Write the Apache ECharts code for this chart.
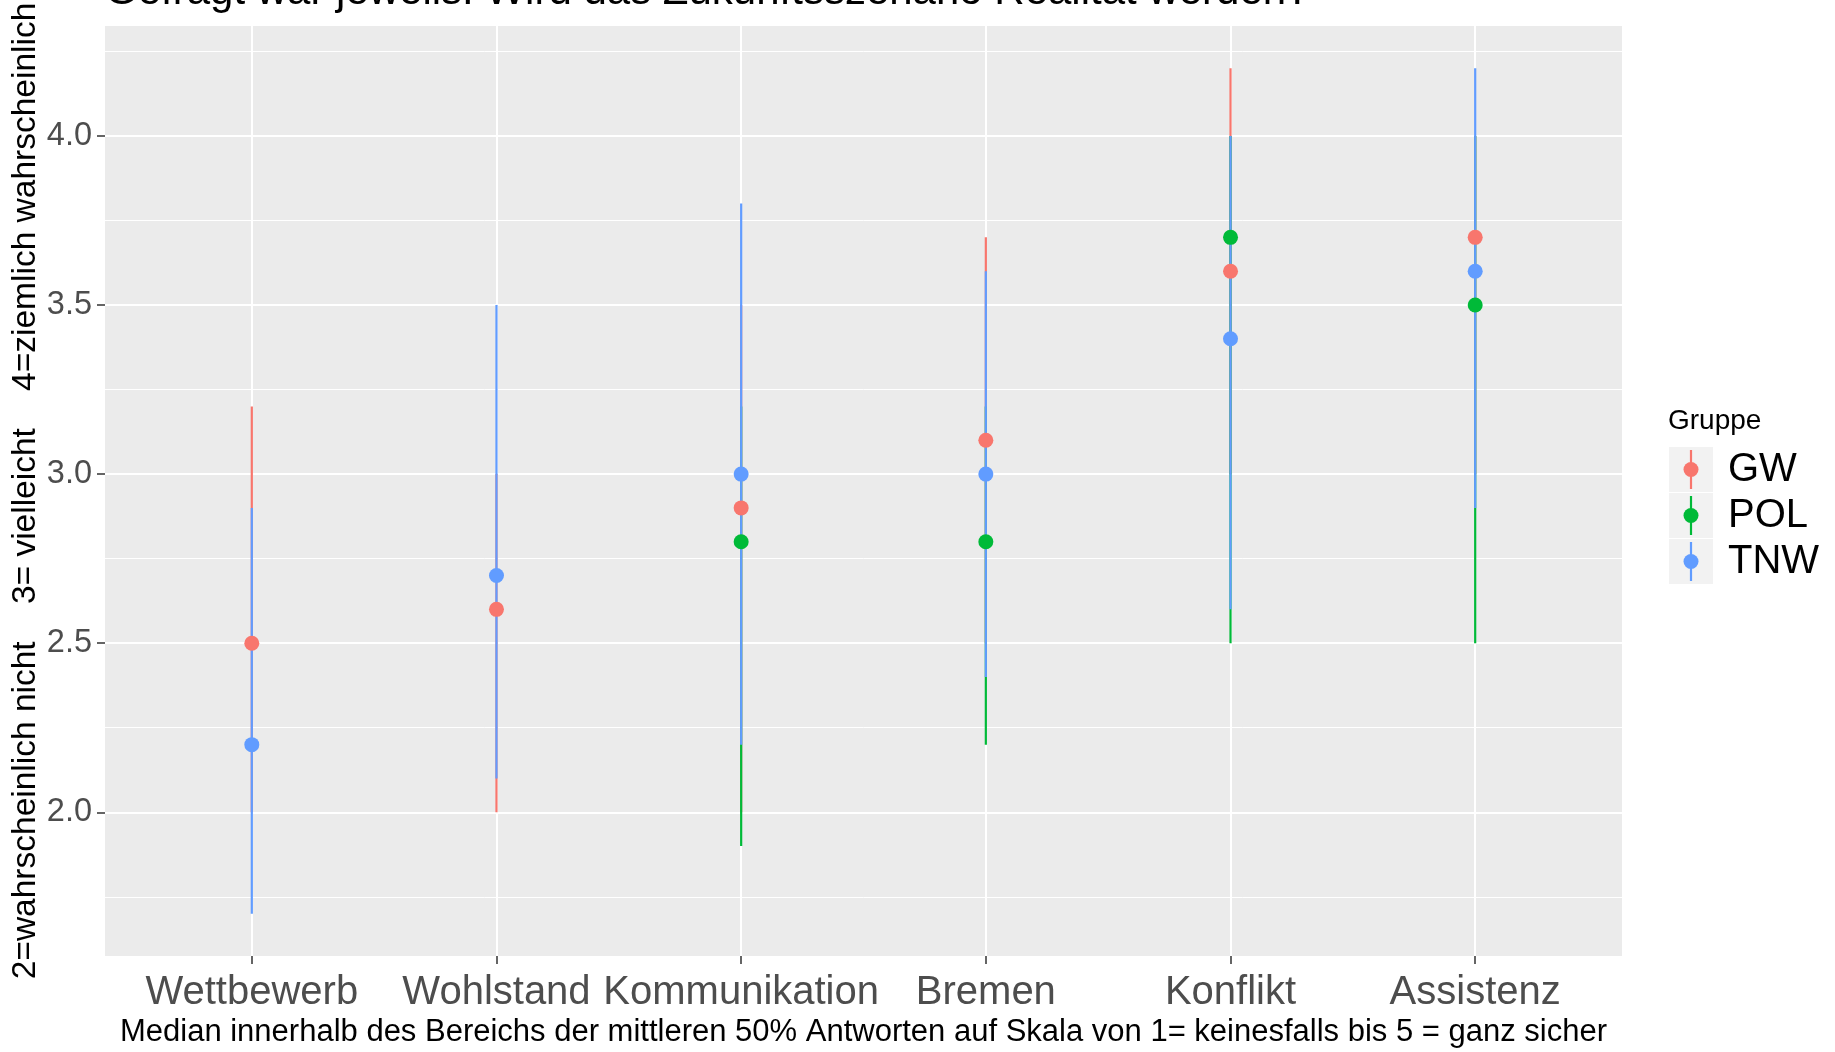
<!DOCTYPE html>
<html>
<head>
<meta charset="utf-8">
<script src="https://cdn.jsdelivr.net/npm/echarts@6/dist/echarts.min.js"></script>
<style>
  html, body { margin: 0; padding: 0; background: #fff; }
  #chart { width: 1835px; height: 1052px; }
</style>
</head>
<body>
<div id="chart"></div>
<script>
// categories and values
var categories = ['Wettbewerb', 'Wohlstand', 'Kommunikation', 'Bremen', 'Konflikt', 'Assistenz'];
var groups = ['GW', 'POL', 'TNW'];

var gwMedian = [2.5, 2.6, 2.9, 3.1, 3.6, 3.7];
var gwLower = [2.0, 2.0, 2.0, 2.5, 3.0, 3.0];
var gwUpper = [3.2, 3.0, 3.5, 3.7, 4.2, 4.0];

var polMedian = [null, null, 2.8, 2.8, 3.7, 3.5];
var polLower = [null, null, 1.9, 2.2, 2.5, 2.5];
var polUpper = [null, null, 3.2, 3.2, 4.0, 4.0];

var tnwMedian = [2.2, 2.7, 3.0, 3.0, 3.4, 3.6];
var tnwLower = [1.7, 2.1, 2.2, 2.4, 2.6, 2.9];
var tnwUpper = [2.9, 3.5, 3.8, 3.6, 4.0, 4.2];

var yTicks = [2.0, 2.5, 3.0, 3.5, 4.0];
var yMinorTicks = [1.75, 2.25, 2.75, 3.25, 3.75, 4.25];

var colors = ['#F8766D', '#00BA38', '#619CFF'];
var font = 'Liberation Sans';

var xTicks = categories.map(function (c, i) { return i + 1; });

function rangeData(lower, upper) {
  var out = [];
  for (var i = 0; i < categories.length; i++) {
    if (lower[i] == null) continue;
    out.push([i + 1, lower[i], upper[i]]);
  }
  return out;
}

function pointData(median) {
  var out = [];
  for (var i = 0; i < categories.length; i++) {
    if (median[i] == null) continue;
    out.push([i + 1, median[i]]);
  }
  return out;
}

function rangeSeries(name, lower, upper, color) {
  return {
    name: name,
    type: 'custom',
    z: 2,
    data: rangeData(lower, upper),
    encode: { x: 0, y: [1, 2] },
    renderItem: function (params, api) {
      var x = api.value(0);
      var lo = api.coord([x, api.value(1)]);
      var hi = api.coord([x, api.value(2)]);
      return {
        type: 'line',
        shape: { x1: lo[0], y1: lo[1], x2: hi[0], y2: hi[1] },
        style: { stroke: color, lineWidth: 2.2 }
      };
    }
  };
}

function pointSeries(name, median, color) {
  return {
    name: name,
    type: 'scatter',
    z: 3,
    symbol: 'circle',
    symbolSize: 15,
    itemStyle: { color: color, opacity: 1 },
    data: pointData(median)
  };
}

// legend drawn by hand: grey key boxes with a line + dot
var legendGraphics = [{
  type: 'text', x: 1668, y: 421,
  style: { text: 'Gruppe', font: '28px "' + font + '"', fill: '#000', verticalAlign: 'middle' }
}];
groups.forEach(function (g, i) {
  var top = 447 + i * 46;
  legendGraphics.push(
    { type: 'rect', shape: { x: 1669, y: top, width: 44, height: 45 }, style: { fill: '#F2F2F2' } },
    { type: 'line', shape: { x1: 1691, y1: top + 3, x2: 1691, y2: top + 42 }, style: { stroke: colors[i], lineWidth: 2.2 } },
    { type: 'circle', shape: { cx: 1691, cy: top + 22.5, r: 7.5 }, style: { fill: colors[i] } },
    { type: 'text', x: 1728, y: top + 23, style: { text: g, font: '40px "' + font + '"', fill: '#000', verticalAlign: 'middle' } }
  );
});

var chart = echarts.init(document.getElementById('chart'));
var option = {
  animation: false,
  backgroundColor: '#fff',
  textStyle: { fontFamily: font },
  grid: {
    left: 105, right: 213, top: 26, bottom: 96,
    outerBoundsMode: 'none',
    containLabel: false,
    show: true, backgroundColor: '#EBEBEB', borderWidth: 0
  },
  xAxis: {
    type: 'value',
    min: 0.4,
    max: 6.6,
    axisLine: { show: false },
    axisTick: { show: true, length: 8, customValues: xTicks, lineStyle: { color: '#333333', width: 1.5 } },
    axisLabel: {
      customValues: xTicks,
      formatter: function (v) { return categories[Math.round(v) - 1]; },
      fontSize: 40, color: '#4D4D4D', margin: 17
    },
    splitLine: { show: true, lineStyle: { color: '#fff', width: 2 } },
    name: 'Median innerhalb des Bereichs der mittleren 50% Antworten auf Skala von 1= keinesfalls bis 5 = ganz sicher',
    nameLocation: 'middle',
    nameGap: 61,
    nameMoveOverlap: false,
    nameTextStyle: { fontSize: 31, color: '#000' }
  },
  yAxis: [{
    type: 'value',
    min: 1.575,
    max: 4.325,
    axisLine: { show: false },
    axisTick: { show: true, length: 8, customValues: yTicks, lineStyle: { color: '#333333', width: 1.5 } },
    axisLabel: {
      customValues: yTicks,
      formatter: function (v) { return v.toFixed(1); },
      fontSize: 32.5, color: '#4D4D4D', margin: 13
    },
    splitLine: { show: true, lineStyle: { color: '#fff', width: 2 } },
    name: '2=wahrscheinlich nicht    3= vielleicht    4=ziemlich wahrscheinlich',
    nameLocation: 'middle',
    nameGap: 62,
    nameMoveOverlap: false,
    nameTextStyle: { fontSize: 33.5, color: '#000' }
  }, {
    // minor grid lines
    type: 'value',
    min: 1.575,
    max: 4.325,
    axisLine: { show: false },
    axisTick: { show: false, customValues: yMinorTicks },
    axisLabel: { show: false, customValues: yMinorTicks },
    splitLine: { show: true, lineStyle: { color: '#fff', width: 1 } }
  }],
  graphic: [{
    type: 'text', x: 105, y: -8,
    style: {
      text: 'Gefragt war jeweils: Wird das Zukunftsszenario Realität werden?',
      font: '42px "' + font + '"', fill: '#000', verticalAlign: 'middle'
    }
  }].concat(legendGraphics),
  series: [
    rangeSeries('GW', gwLower, gwUpper, colors[0]),
    rangeSeries('POL', polLower, polUpper, colors[1]),
    rangeSeries('TNW', tnwLower, tnwUpper, colors[2]),
    pointSeries('GW', gwMedian, colors[0]),
    pointSeries('POL', polMedian, colors[1]),
    pointSeries('TNW', tnwMedian, colors[2])
  ]
};
chart.setOption(option);
</script>
</body>
</html>
